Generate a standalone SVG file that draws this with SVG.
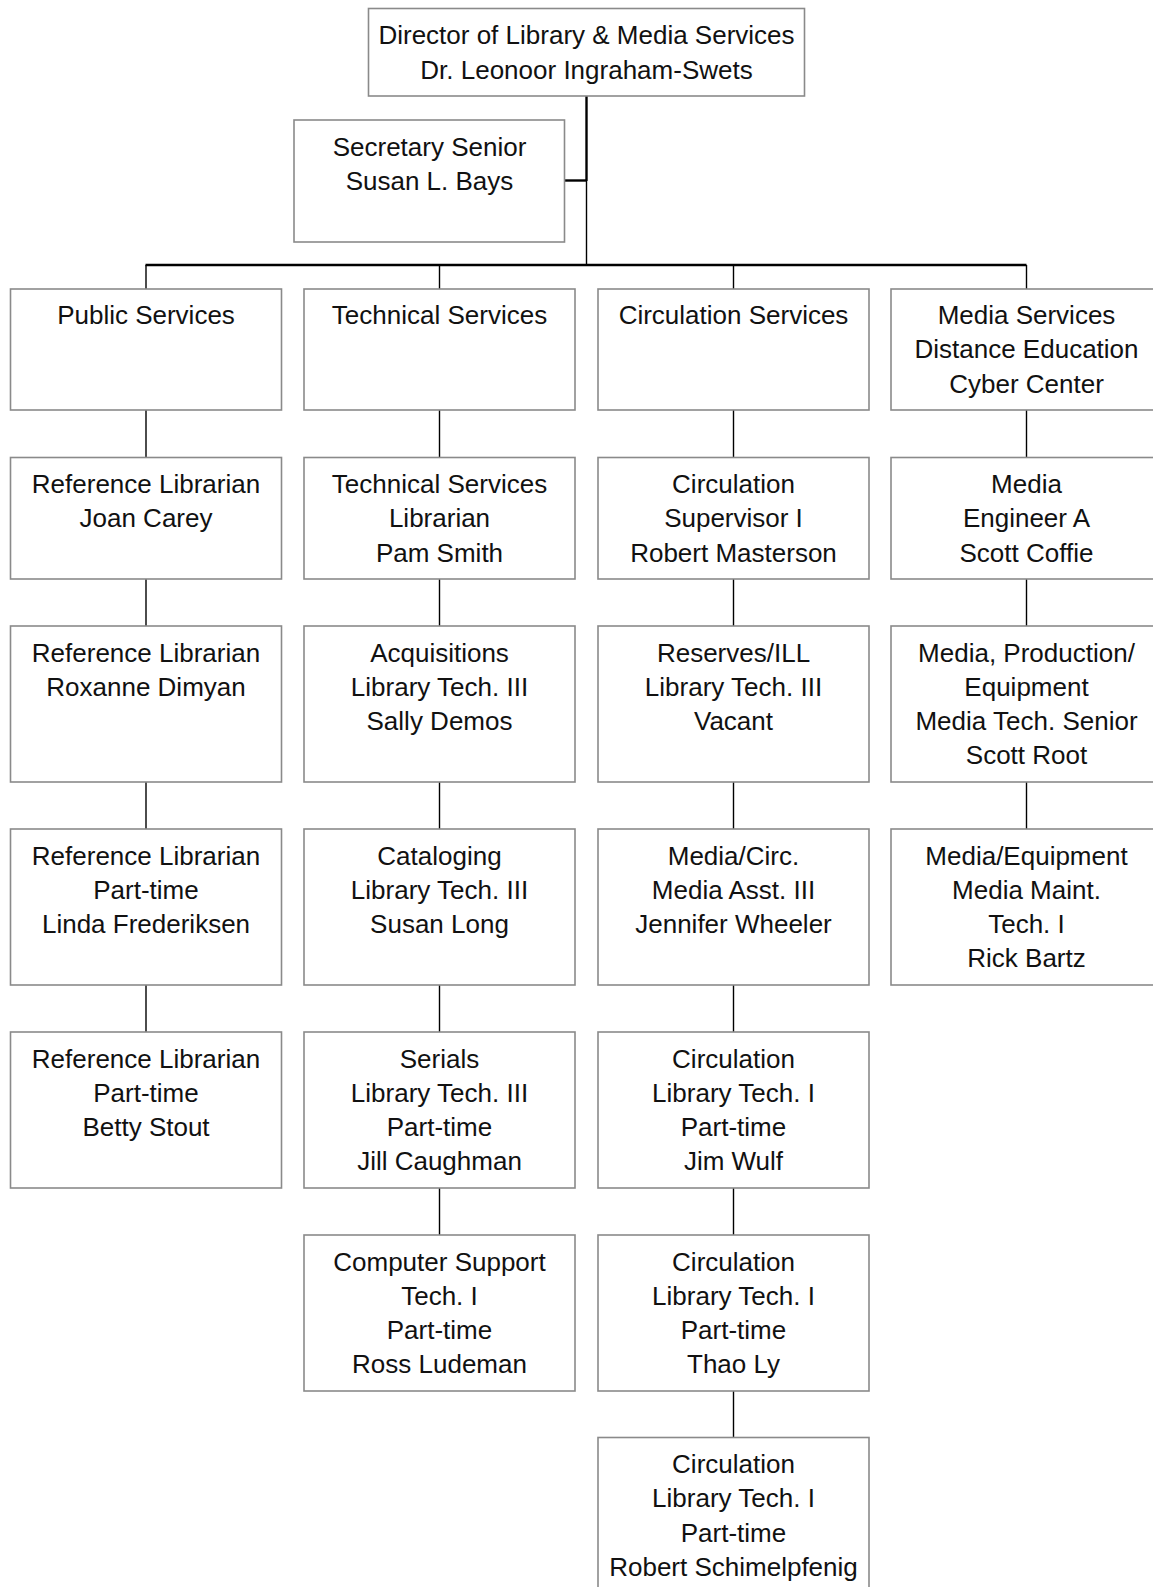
<svg xmlns="http://www.w3.org/2000/svg" width="1153" height="1587" viewBox="0 0 1153 1587">
<style>
.box{fill:#fff;stroke:#8a8a8a;stroke-width:1.6}
.t{font-family:"Liberation Sans",Arial,sans-serif;font-size:26px;fill:#111;text-anchor:middle}
.c{stroke:#000;stroke-width:1.4;fill:none}
.ct{stroke:#000;stroke-width:2.4;fill:none}
</style>
<rect width="1153" height="1587" fill="#fff"/>
<g id="connectors">
<line class="ct" x1="586.5" y1="96" x2="586.5" y2="181"/>
<line class="c" x1="586.5" y1="181" x2="586.5" y2="265"/>
<line class="ct" x1="564" y1="180.5" x2="586.5" y2="180.5"/>
<line class="ct" x1="145.5" y1="265" x2="1026.5" y2="265"/>
<line class="c" x1="146" y1="265" x2="146" y2="289"/>
<line class="c" x1="439.5" y1="265" x2="439.5" y2="289"/>
<line class="c" x1="733.5" y1="265" x2="733.5" y2="289"/>
<line class="c" x1="1026.5" y1="265" x2="1026.5" y2="289"/>
<line class="c" x1="146" y1="410" x2="146" y2="457.5"/>
<line class="c" x1="146" y1="579" x2="146" y2="626"/>
<line class="c" x1="146" y1="782" x2="146" y2="829"/>
<line class="c" x1="146" y1="985" x2="146" y2="1032"/>
<line class="c" x1="439.5" y1="410" x2="439.5" y2="457.5"/>
<line class="c" x1="439.5" y1="579" x2="439.5" y2="626"/>
<line class="c" x1="439.5" y1="782" x2="439.5" y2="829"/>
<line class="c" x1="439.5" y1="985" x2="439.5" y2="1032"/>
<line class="c" x1="439.5" y1="1188" x2="439.5" y2="1235"/>
<line class="c" x1="733.5" y1="410" x2="733.5" y2="457.5"/>
<line class="c" x1="733.5" y1="579" x2="733.5" y2="626"/>
<line class="c" x1="733.5" y1="782" x2="733.5" y2="829"/>
<line class="c" x1="733.5" y1="985" x2="733.5" y2="1032"/>
<line class="c" x1="733.5" y1="1188" x2="733.5" y2="1235"/>
<line class="c" x1="733.5" y1="1391" x2="733.5" y2="1437.5"/>
<line class="c" x1="1026.5" y1="410" x2="1026.5" y2="457.5"/>
<line class="c" x1="1026.5" y1="579" x2="1026.5" y2="626"/>
<line class="c" x1="1026.5" y1="782" x2="1026.5" y2="829"/>
</g>
<g id="director">
<rect class="box" x="368.5" y="8.5" width="436" height="87.5"/>
<text class="t" x="586.5" y="43.5">Director of Library &amp; Media Services</text>
<text class="t" x="586.5" y="78.5">Dr. Leonoor Ingraham-Swets</text>
</g>
<g id="secretary">
<rect class="box" x="294" y="120" width="270.5" height="122"/>
<text class="t" x="429.5" y="156">Secretary Senior</text>
<text class="t" x="429.5" y="190">Susan L. Bays</text>
</g>
<g id="public-services">
<rect class="box" x="10.5" y="289" width="271" height="121"/>
<text class="t" x="146" y="324">Public Services</text>
</g>
<g id="technical-services">
<rect class="box" x="304" y="289" width="271" height="121"/>
<text class="t" x="439.5" y="324">Technical Services</text>
</g>
<g id="circulation-services">
<rect class="box" x="598" y="289" width="271" height="121"/>
<text class="t" x="733.5" y="324">Circulation Services</text>
</g>
<g id="media-services">
<rect class="box" x="891" y="289" width="271" height="121"/>
<text class="t" x="1026.5" y="324">Media Services</text>
<text class="t" x="1026.5" y="358.3">Distance Education</text>
<text class="t" x="1026.5" y="392.6">Cyber Center</text>
</g>
<g id="joan-carey">
<rect class="box" x="10.5" y="457.5" width="271" height="121.5"/>
<text class="t" x="146" y="493">Reference Librarian</text>
<text class="t" x="146" y="527.3">Joan Carey</text>
</g>
<g id="pam-smith">
<rect class="box" x="304" y="457.5" width="271" height="121.5"/>
<text class="t" x="439.5" y="493">Technical Services</text>
<text class="t" x="439.5" y="527.3">Librarian</text>
<text class="t" x="439.5" y="561.6">Pam Smith</text>
</g>
<g id="robert-masterson">
<rect class="box" x="598" y="457.5" width="271" height="121.5"/>
<text class="t" x="733.5" y="493">Circulation</text>
<text class="t" x="733.5" y="527.3">Supervisor I</text>
<text class="t" x="733.5" y="561.6">Robert Masterson</text>
</g>
<g id="scott-coffie">
<rect class="box" x="891" y="457.5" width="271" height="121.5"/>
<text class="t" x="1026.5" y="493">Media</text>
<text class="t" x="1026.5" y="527.3">Engineer A</text>
<text class="t" x="1026.5" y="561.6">Scott Coffie</text>
</g>
<g id="roxanne-dimyan">
<rect class="box" x="10.5" y="626" width="271" height="156"/>
<text class="t" x="146" y="661.5">Reference Librarian</text>
<text class="t" x="146" y="695.8">Roxanne Dimyan</text>
</g>
<g id="sally-demos">
<rect class="box" x="304" y="626" width="271" height="156"/>
<text class="t" x="439.5" y="661.5">Acquisitions</text>
<text class="t" x="439.5" y="695.8">Library Tech. III</text>
<text class="t" x="439.5" y="730.1">Sally Demos</text>
</g>
<g id="reserves-vacant">
<rect class="box" x="598" y="626" width="271" height="156"/>
<text class="t" x="733.5" y="661.5">Reserves/ILL</text>
<text class="t" x="733.5" y="695.8">Library Tech. III</text>
<text class="t" x="733.5" y="730.1">Vacant</text>
</g>
<g id="scott-root">
<rect class="box" x="891" y="626" width="271" height="156"/>
<text class="t" x="1026.5" y="661.5">Media, Production/</text>
<text class="t" x="1026.5" y="695.8">Equipment</text>
<text class="t" x="1026.5" y="730.1">Media Tech. Senior</text>
<text class="t" x="1026.5" y="764.4">Scott Root</text>
</g>
<g id="linda-frederiksen">
<rect class="box" x="10.5" y="829" width="271" height="156"/>
<text class="t" x="146" y="864.5">Reference Librarian</text>
<text class="t" x="146" y="898.8">Part-time</text>
<text class="t" x="146" y="933.1">Linda Frederiksen</text>
</g>
<g id="susan-long">
<rect class="box" x="304" y="829" width="271" height="156"/>
<text class="t" x="439.5" y="864.5">Cataloging</text>
<text class="t" x="439.5" y="898.8">Library Tech. III</text>
<text class="t" x="439.5" y="933.1">Susan Long</text>
</g>
<g id="jennifer-wheeler">
<rect class="box" x="598" y="829" width="271" height="156"/>
<text class="t" x="733.5" y="864.5">Media/Circ.</text>
<text class="t" x="733.5" y="898.8">Media Asst. III</text>
<text class="t" x="733.5" y="933.1">Jennifer Wheeler</text>
</g>
<g id="rick-bartz">
<rect class="box" x="891" y="829" width="271" height="156"/>
<text class="t" x="1026.5" y="864.5">Media/Equipment</text>
<text class="t" x="1026.5" y="898.8">Media Maint.</text>
<text class="t" x="1026.5" y="933.1">Tech. I</text>
<text class="t" x="1026.5" y="967.4">Rick Bartz</text>
</g>
<g id="betty-stout">
<rect class="box" x="10.5" y="1032" width="271" height="156"/>
<text class="t" x="146" y="1067.5">Reference Librarian</text>
<text class="t" x="146" y="1101.8">Part-time</text>
<text class="t" x="146" y="1136.1">Betty Stout</text>
</g>
<g id="jill-caughman">
<rect class="box" x="304" y="1032" width="271" height="156"/>
<text class="t" x="439.5" y="1067.5">Serials</text>
<text class="t" x="439.5" y="1101.8">Library Tech. III</text>
<text class="t" x="439.5" y="1136.1">Part-time</text>
<text class="t" x="439.5" y="1170.4">Jill Caughman</text>
</g>
<g id="jim-wulf">
<rect class="box" x="598" y="1032" width="271" height="156"/>
<text class="t" x="733.5" y="1067.5">Circulation</text>
<text class="t" x="733.5" y="1101.8">Library Tech. I</text>
<text class="t" x="733.5" y="1136.1">Part-time</text>
<text class="t" x="733.5" y="1170.4">Jim Wulf</text>
</g>
<g id="ross-ludeman">
<rect class="box" x="304" y="1235" width="271" height="156"/>
<text class="t" x="439.5" y="1270.5">Computer Support</text>
<text class="t" x="439.5" y="1304.8">Tech. I</text>
<text class="t" x="439.5" y="1339.1">Part-time</text>
<text class="t" x="439.5" y="1373.4">Ross Ludeman</text>
</g>
<g id="thao-ly">
<rect class="box" x="598" y="1235" width="271" height="156"/>
<text class="t" x="733.5" y="1270.5">Circulation</text>
<text class="t" x="733.5" y="1304.8">Library Tech. I</text>
<text class="t" x="733.5" y="1339.1">Part-time</text>
<text class="t" x="733.5" y="1373.4">Thao Ly</text>
</g>
<g id="robert-schimelpfenig">
<rect class="box" x="598" y="1437.5" width="271" height="156"/>
<text class="t" x="733.5" y="1473">Circulation</text>
<text class="t" x="733.5" y="1507.3">Library Tech. I</text>
<text class="t" x="733.5" y="1541.6">Part-time</text>
<text class="t" x="733.5" y="1575.9">Robert Schimelpfenig</text>
</g>
</svg>
